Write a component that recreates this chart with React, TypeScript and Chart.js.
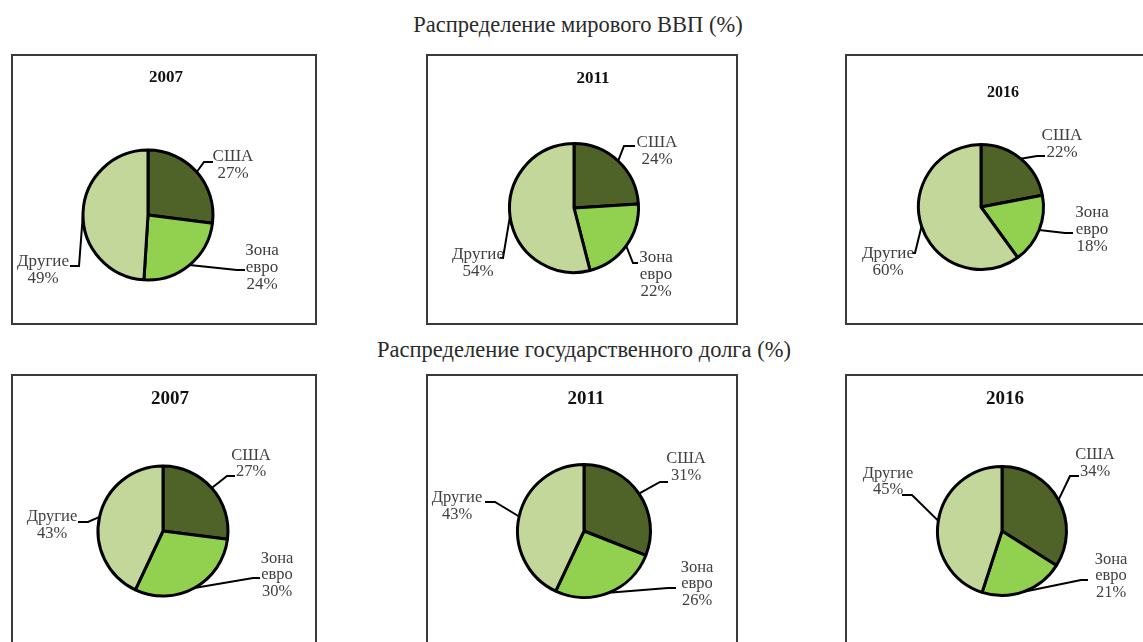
import React, { useEffect, useRef } from 'react';
import { Chart, registerables } from 'chart.js';

Chart.register(...registerables);

// ---- data ----
const categories = ['США', 'Зона евро', 'Другие'];
const years = ['2007', '2011', '2016'];
const gdp2007 = [27, 24, 49];
const gdp2011 = [24, 22, 54];
const gdp2016 = [22, 18, 60];
const debt2007 = [27, 30, 43];
const debt2011 = [31, 26, 43];
const debt2016 = [34, 21, 45];
const sectionTitles = ['Распределение мирового ВВП (%)', 'Распределение государственного долга (%)'];
const sliceColors = ['#4F6228', '#92D050', '#C4D79B'];

// ---- layout (styles / positions) ----
type LabelPos = { t: [number, number]; e: [number, number]; l: [number, number] };
type Panel = {
  values: number[];
  year: string;
  box: { x: number; y: number; w: number; h: number };
  cx: number;
  cy: number;
  r: number;
  title: [number, number];
  titleSize: number;
  fontSize: number;
  lineH: number;
  labels: LabelPos[];
};

const panels: Panel[] = [
  {
    values: gdp2007, year: years[0],
    box: { x: 11, y: 54, w: 306, h: 271 }, cx: 148, cy: 215, r: 65,
    title: [166, 78], titleSize: 17, fontSize: 17, lineH: 17,
    labels: [
      { t: [85, -49.5], e: [56, -53], l: [65, -53] },
      { t: [114, 53], e: [89, 55], l: [97, 55] },
      { t: [-105, 55.5], e: [-69, 51], l: [-78, 51] },
    ],
  },
  {
    values: gdp2011, year: years[1],
    box: { x: 426, y: 54, w: 312, h: 271 }, cx: 574, cy: 208, r: 64.5,
    title: [593, 79], titleSize: 17, fontSize: 17, lineH: 17,
    labels: [
      { t: [83, -56.5], e: [50, -62], l: [61, -62] },
      { t: [82, 67], e: [59, 55], l: [64, 55] },
      { t: [-96, 55], e: [-71, 50], l: [-74, 50] },
    ],
  },
  {
    values: gdp2016, year: years[2],
    box: { x: 845, y: 54, w: 306, h: 271 }, cx: 981, cy: 207, r: 62.5,
    title: [1003, 93], titleSize: 16, fontSize: 17, lineH: 17,
    labels: [
      { t: [81, -62.5], e: [56, -51], l: [64, -51] },
      { t: [111, 23], e: [84, 26], l: [92, 26] },
      { t: [-93, 55], e: [-66, 46], l: [-69, 46] },
    ],
  },
  {
    values: debt2007, year: years[0],
    box: { x: 11, y: 374, w: 306, h: 271 }, cx: 163, cy: 531, r: 65,
    title: [170, 399], titleSize: 19, fontSize: 16.5, lineH: 16.5,
    labels: [
      { t: [88, -67.5], e: [64, -55], l: [72, -55] },
      { t: [114, 44], e: [90, 47], l: [97, 47] },
      { t: [-111, -6], e: [-75, -9], l: [-85, -9] },
    ],
  },
  {
    values: debt2011, year: years[1],
    box: { x: 426, y: 374, w: 312, h: 271 }, cx: 584, cy: 531, r: 66.5,
    title: [586, 399], titleSize: 19, fontSize: 16.5, lineH: 16.5,
    labels: [
      { t: [102, -64], e: [76, -49], l: [84, -49] },
      { t: [113, 53], e: [84, 57], l: [92, 57] },
      { t: [-127, -25], e: [-89, -29], l: [-99, -29] },
    ],
  },
  {
    values: debt2016, year: years[2],
    box: { x: 845, y: 374, w: 306, h: 271 }, cx: 1002, cy: 531, r: 64.5,
    title: [1005, 399], titleSize: 19, fontSize: 16.5, lineH: 16.5,
    labels: [
      { t: [93, -68], e: [68, -55], l: [77, -55] },
      { t: [109, 45], e: [79, 49], l: [86, 49] },
      { t: [-114, -49.5], e: [-90, -36], l: [-100, -36] },
    ],
  },
];

const SERIF = '"Liberation Serif", "Times New Roman", serif';

function PiePanel({ p }: { p: Panel }) {
  const ref = useRef<HTMLCanvasElement | null>(null);

  useEffect(() => {
    const canvas = ref.current;
    if (!canvas) return;
    const S = 80;
    const padding = {
      left: p.cx - p.box.x - S,
      right: p.box.x + p.box.w - (p.cx + S),
      top: p.cy - p.box.y - S,
      bottom: p.box.y + p.box.h - (p.cy + S),
    };

    const labelPlugin = {
      id: 'pieLabels' + p.year,
      afterDatasetsDraw(chart: any) {
        const ctx = chart.ctx;
        const meta = chart.getDatasetMeta(0);
        const ds = chart.data.datasets[0];
        ctx.save();
        // year title
        ctx.fillStyle = '#111';
        ctx.font = `bold ${p.titleSize}px ${SERIF}`;
        ctx.textAlign = 'center';
        ctx.textBaseline = 'middle';
        ctx.fillText(p.year, p.title[0] - p.box.x, p.title[1] - p.box.y);

        meta.data.forEach((arc: any, i: number) => {
          const { x, y, startAngle, endAngle, outerRadius } = arc.getProps(
            ['x', 'y', 'startAngle', 'endAngle', 'outerRadius'], true);
          const mid = (startAngle + endAngle) / 2;
          const ax = x + Math.cos(mid) * outerRadius;
          const ay = y + Math.sin(mid) * outerRadius;
          const lp = p.labels[i];
          // leader line
          ctx.strokeStyle = '#000';
          ctx.lineWidth = 2;
          ctx.lineJoin = 'miter';
          ctx.beginPath();
          ctx.moveTo(ax, ay);
          ctx.lineTo(x + lp.e[0], y + lp.e[1]);
          ctx.lineTo(x + lp.l[0], y + lp.l[1]);
          ctx.stroke();
          // text
          const lines = [...String(chart.data.labels[i]).split(' '), ds.data[i] + '%'];
          ctx.fillStyle = '#404040';
          ctx.font = `${p.fontSize}px ${SERIF}`;
          ctx.textAlign = 'center';
          ctx.textBaseline = 'middle';
          const y0 = y + lp.t[1] - ((lines.length - 1) * p.lineH) / 2;
          lines.forEach((ln, k) => {
            ctx.fillText(ln, x + lp.t[0], y0 + k * p.lineH);
          });
        });
        ctx.restore();
      },
    };

    const chart = new Chart(canvas, {
      type: 'pie',
      data: {
        labels: categories,
        datasets: [
          {
            data: p.values,
            backgroundColor: sliceColors,
            borderColor: '#000',
            borderWidth: 3,
          },
        ],
      },
      options: {
        responsive: false,
        animation: false,
        radius: p.r,
        layout: { padding },
        plugins: {
          legend: { display: false },
          tooltip: { enabled: false },
          title: { display: false },
        },
      } as any,
      plugins: [labelPlugin],
    });
    return () => chart.destroy();
  }, [p]);

  return (
    <>
      <div
        style={{
          position: 'absolute',
          left: p.box.x,
          top: p.box.y,
          width: p.box.w,
          height: p.box.h,
          border: '2px solid #3a3a3a',
          boxSizing: 'border-box',
        }}
      />
      <canvas
        ref={ref}
        width={p.box.w}
        height={p.box.h}
        style={{ position: 'absolute', left: p.box.x, top: p.box.y, width: p.box.w, height: p.box.h }}
      />
    </>
  );
}

export default function App() {
  const titlePos: [number, number][] = [
    [578, 25],
    [584, 350],
  ];
  return (
    <div
      style={{
        position: 'absolute',
        left: 0,
        top: 0,
        width: 1143,
        height: 642,
        overflow: 'hidden',
        background: '#fff',
      }}
    >
      {sectionTitles.map((t, i) => (
        <div
          key={t}
          style={{
            position: 'absolute',
            left: titlePos[i][0] - 300,
            top: titlePos[i][1] - 13,
            width: 600,
            height: 26,
            lineHeight: '26px',
            textAlign: 'center',
            fontFamily: SERIF,
            fontSize: 22.5,
            color: '#2a2a2a',
            whiteSpace: 'nowrap',
          }}
        >
          {t}
        </div>
      ))}
      {panels.map((p, i) => (
        <PiePanel key={i} p={p} />
      ))}
    </div>
  );
}
